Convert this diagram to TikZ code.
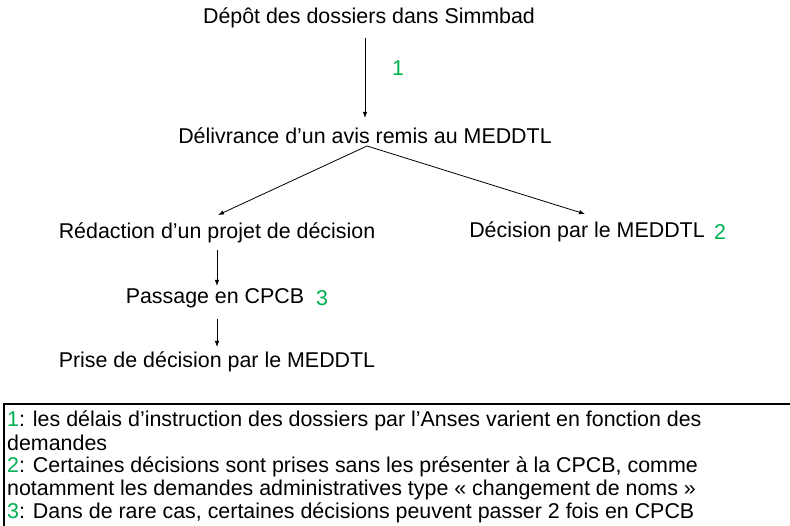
\documentclass[tikz,border=0pt]{standalone}
\usepackage{fontspec}
\setmainfont{Liberation Sans}
\usetikzlibrary{calc}
\usetikzlibrary{arrows.meta}
\definecolor{numgreen}{RGB}{0,176,80}

\begin{document}
\begin{tikzpicture}[x=1pt,y=-1pt,inner sep=0pt,
  stepbox/.style={font=\fontsize{21.4}{25}\selectfont},
  num/.style={font=\fontsize{21.4}{25}\selectfont,text=numgreen},
  note/.style={font=\fontsize{21.4}{25}\selectfont,anchor=base west},
  tip/.style={-{Latex[length=6pt,width=4.5pt]},line width=0.8pt}]
\useasboundingbox (0,0) rectangle (790,526);
\clip (0,0) rectangle (790,526);
\node[stepbox] (depot) at (369, 18) {Dépôt des dossiers dans Simmbad};
\node[stepbox] (delivr) at (365, 136) {Délivrance d’un avis remis au MEDDTL};
\node[stepbox] (redac) at (217, 233) {Rédaction d’un projet de décision};
\node[stepbox] (decis) at (587, 232) {Décision par le MEDDTL};
\node[stepbox] (passage) at (215, 298) {Passage en CPCB};
\node[stepbox] (prise) at (217, 362) {Prise de décision par le MEDDTL};
\node[num] (n1) at (398, 68) {1};
\node[num] (n2) at (720, 232) {2};
\node[num] (n3) at (322, 298) {3};
\coordinate (fork) at (367, 146);
\coordinate (top) at (365, 38);
\coordinate (bot) at (365, 118);

\draw[tip] (top) -- (bot);
\draw[tip] (fork) -- (218, 215);
\draw[tip] (fork) -- (585, 214);
\draw[tip] (217, 250) -- (217, 286);
\draw[tip] (217, 319) -- (217, 347);

% notes
\draw[line width=1.2pt] (4, 404) rectangle (800, 540);
\node[note] (l1) at (7, 427) {\textcolor{numgreen}{1}: les délais d’instruction des dossiers par l’Anses varient en fonction des};
\node[note] (l2) at (7, 450) {demandes};
\node[note] (l3) at (7, 472.5) {\textcolor{numgreen}{2}: Certaines décisions sont prises sans les présenter à la CPCB, comme};
\node[note] (l4) at (7, 495) {notamment les demandes administratives type « changement de noms »};
\node[note] (l5) at (7, 518) {\textcolor{numgreen}{3}: Dans de rare cas, certaines décisions peuvent passer 2 fois en CPCB};
\end{tikzpicture}
\end{document}
